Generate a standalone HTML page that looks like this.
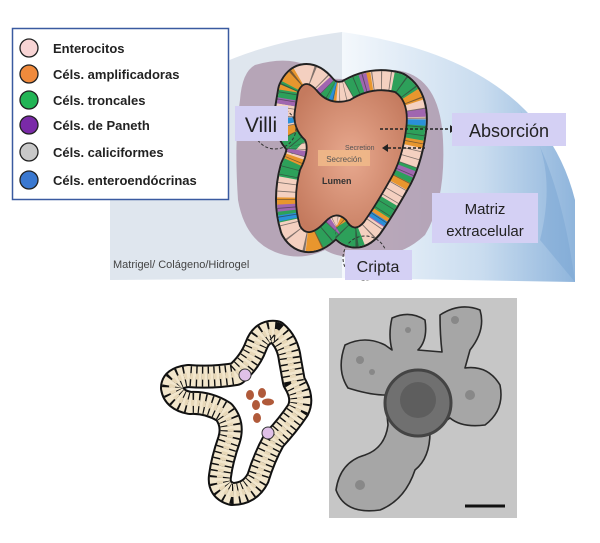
<!DOCTYPE html>
<html><head><style>
html,body{margin:0;padding:0;background:#fff;width:600px;height:543px;overflow:hidden;font-family:"Liberation Sans",sans-serif}
</style></head><body>
<svg width="600" height="543" viewBox="0 0 600 543" xmlns="http://www.w3.org/2000/svg">
<defs>
<linearGradient id="rg" x1="0" y1="0" x2="1" y2="0">
<stop offset="0" stop-color="#f4f8fc"/><stop offset="0.6" stop-color="#c9dcef"/><stop offset="1" stop-color="#8fb5dc"/></linearGradient>
<radialGradient id="lum" cx="0.5" cy="0.5" r="0.6"><stop offset="0" stop-color="#e8a98f"/><stop offset="1" stop-color="#c47a5e"/></radialGradient>
<path id="lp" d="M298 92 Q305 76 318 92 Q330 106 350 100 Q372 86 395 92 Q410 102 406 130 Q402 160 390 180 Q376 205 364 222 Q354 234 346 220 Q336 210 325 222 Q308 240 300 226 Q292 200 300 170 Q310 150 305 140 Q292 128 295 110 Z"/>
<path id="dp" d="M276 332 Q288 342 290 360 L294 382 Q304 398 298 410 Q288 425 274 440 Q264 458 258 478 Q250 494 232 494 Q218 490 220 476 Q222 460 229 440 Q234 424 224 412 Q208 402 190 403 Q174 400 172 388 Q172 378 188 376 Q212 378 236 374 Q250 362 256 346 Q262 330 276 332 Z"/>
</defs>
<!-- dome -->
<path d="M110 280 L110 200 Q130 60 342 32 L342 278 Z" fill="#dfe6ee"/>
<path d="M342 32 Q540 60 575 200 L575 282 L342 278 Z" fill="url(#rg)"/>
<path d="M540 240 Q560 160 520 110 Q560 170 575 282 Z" fill="#7aa6d4" opacity="0.5"/>
<!-- outer purple shell -->
<path d="M255 65 Q300 52 325 78 Q360 82 395 70 Q440 75 443 140 Q446 200 425 235 Q400 258 375 253 Q345 262 325 250 Q300 262 275 252 Q245 240 238 200 Q234 140 240 100 Q242 72 255 65 Z" fill="#a88fa4" opacity="0.75"/>
<!-- epithelium band -->
<use href="#lp" fill="none" stroke="#222" stroke-width="42" stroke-linejoin="round"/>
<use href="#lp" fill="none" stroke="#f4d0c0" stroke-width="38" stroke-linejoin="round"/>
<use href="#lp" fill="none" stroke="#e8962e" stroke-width="38" stroke-dasharray="9,30" stroke-linejoin="round"/>
<use href="#lp" fill="none" stroke="#2da05a" stroke-width="38" stroke-dasharray="14,25" stroke-dashoffset="12" stroke-linejoin="round"/>
<use href="#lp" fill="none" stroke="#a066b0" stroke-width="38" stroke-dasharray="6,48" stroke-dashoffset="30" stroke-linejoin="round"/>
<use href="#lp" fill="none" stroke="#2a90d8" stroke-width="38" stroke-dasharray="5,95" stroke-dashoffset="60" stroke-linejoin="round"/>
<use href="#lp" fill="none" stroke="#333" stroke-width="38" stroke-dasharray="0.8,6.5" stroke-linejoin="round" opacity="0.6"/>
<use href="#lp" fill="url(#lum)" stroke="#222" stroke-width="1.8"/>
<circle cx="275" cy="128" r="21" fill="none" stroke="#333" stroke-dasharray="3,2"/>
<circle cx="365" cy="258" r="22" fill="none" stroke="#333" stroke-dasharray="3,2"/>
<rect x="318" y="150" width="52" height="16" fill="#f0b888" opacity="0.9"/>
<text x="344" y="162" font-size="8" fill="#555" text-anchor="middle">Secreción</text>
<text x="345" y="150" font-size="7" fill="#555">Secretion</text>
<text x="322" y="184" font-size="9" font-weight="bold" fill="#333">Lumen</text>
<line x1="380" y1="129" x2="450" y2="129" stroke="#222" stroke-width="1.5" stroke-dasharray="3,2"/>
<polygon points="450,125 456,129 450,133" fill="#222"/>
<line x1="388" y1="148" x2="425" y2="148" stroke="#222" stroke-width="1.5" stroke-dasharray="3,2"/>
<polygon points="388,144 382,148 388,152" fill="#222"/>
<!-- label boxes -->
<rect x="235" y="106" width="53" height="35" fill="#d4d0f4"/>
<text x="261" y="132" font-size="21" text-anchor="middle" fill="#222">Villi</text>
<rect x="452" y="113" width="114" height="33" fill="#d4d0f4"/>
<text x="509" y="137" font-size="18" text-anchor="middle" fill="#222">Absorción</text>
<rect x="432" y="193" width="106" height="50" fill="#d4d0f4"/>
<text x="485" y="214" font-size="15" text-anchor="middle" fill="#222">Matriz</text>
<text x="485" y="236" font-size="15" text-anchor="middle" fill="#222">extracelular</text>
<rect x="345" y="250" width="67" height="30" fill="#d4d0f4"/>
<text x="378" y="272" font-size="16" text-anchor="middle" fill="#222">Cripta</text>
<text x="113" y="268" font-size="11" fill="#444">Matrigel/ Colágeno/Hidrogel</text>
<!-- legend -->
<rect x="12.5" y="28.5" width="216" height="171" fill="#fff" stroke="#3a5aa0" stroke-width="1.5"/>
<g stroke="#222" stroke-width="1.3">
<circle cx="29" cy="48" r="9" fill="#f8d4d4"/>
<circle cx="29" cy="74" r="9" fill="#f08a3c"/>
<circle cx="29" cy="100" r="9" fill="#22b455"/>
<circle cx="29" cy="125" r="9" fill="#7a2aa8"/>
<circle cx="29" cy="152" r="9" fill="#c8c8c8"/>
<circle cx="29" cy="180" r="9" fill="#3a78d0"/>
</g>
<g font-size="13" font-weight="bold" fill="#222">
<text x="53" y="53">Enterocitos</text>
<text x="53" y="79">Céls. amplificadoras</text>
<text x="53" y="105">Céls. troncales</text>
<text x="53" y="130">Céls. de Paneth</text>
<text x="53" y="157">Céls. caliciformes</text>
<text x="53" y="185">Céls. enteroendócrinas</text>
</g>
<!-- bottom left drawing -->
<use href="#dp" fill="none" stroke="#111" stroke-width="24" stroke-linejoin="round"/>
<use href="#dp" fill="none" stroke="#f2e6cc" stroke-width="20" stroke-linejoin="round"/>
<use href="#dp" fill="none" stroke="#111" stroke-width="20" stroke-dasharray="1.4,4.5" stroke-linejoin="round"/>
<use href="#dp" fill="none" stroke="#e8d8b8" stroke-width="6" stroke-dasharray="3,2.9" stroke-linejoin="round"/>
<circle cx="245" cy="375" r="6" fill="#e0c0e8" stroke="#333"/>
<circle cx="268" cy="433" r="6" fill="#e0c0e8" stroke="#333"/>
<g fill="#b05a3a"><ellipse cx="250" cy="395" rx="4" ry="5"/><ellipse cx="262" cy="393" rx="4" ry="5"/><ellipse cx="256" cy="405" rx="4" ry="5"/><ellipse cx="268" cy="402" rx="6" ry="3.5"/><ellipse cx="257" cy="418" rx="4" ry="5"/></g>
<!-- photo -->
<rect x="329" y="298" width="188" height="220" fill="#c6c6c6"/>
<path d="M345 345 Q365 335 385 345 L392 350 Q388 335 392 318 Q410 310 425 320 Q428 340 418 350 L442 352 Q440 335 440 315 Q460 302 480 310 Q486 330 470 350 L465 368 Q488 365 500 385 Q505 410 485 425 Q462 428 450 418 L430 432 Q430 458 415 470 Q405 500 380 510 Q345 515 336 490 Q340 462 365 455 Q385 448 388 425 L385 395 Q370 395 348 388 Q336 370 345 345 Z" fill="#a6a6a6" stroke="#2a2a2a" stroke-width="1.6" stroke-linejoin="round"/>
<circle cx="418" cy="403" r="33" fill="#707070" stroke="#444" stroke-width="3"/>
<circle cx="418" cy="400" r="18" fill="#5e5e5e"/>
<g fill="#888"><circle cx="360" cy="360" r="4"/><circle cx="372" cy="372" r="3"/><circle cx="408" cy="330" r="3"/><circle cx="470" cy="395" r="5"/><circle cx="360" cy="485" r="5"/><circle cx="455" cy="320" r="4"/></g>
<line x1="465" y1="506" x2="505" y2="506" stroke="#111" stroke-width="3"/>
</svg>
</body></html>
